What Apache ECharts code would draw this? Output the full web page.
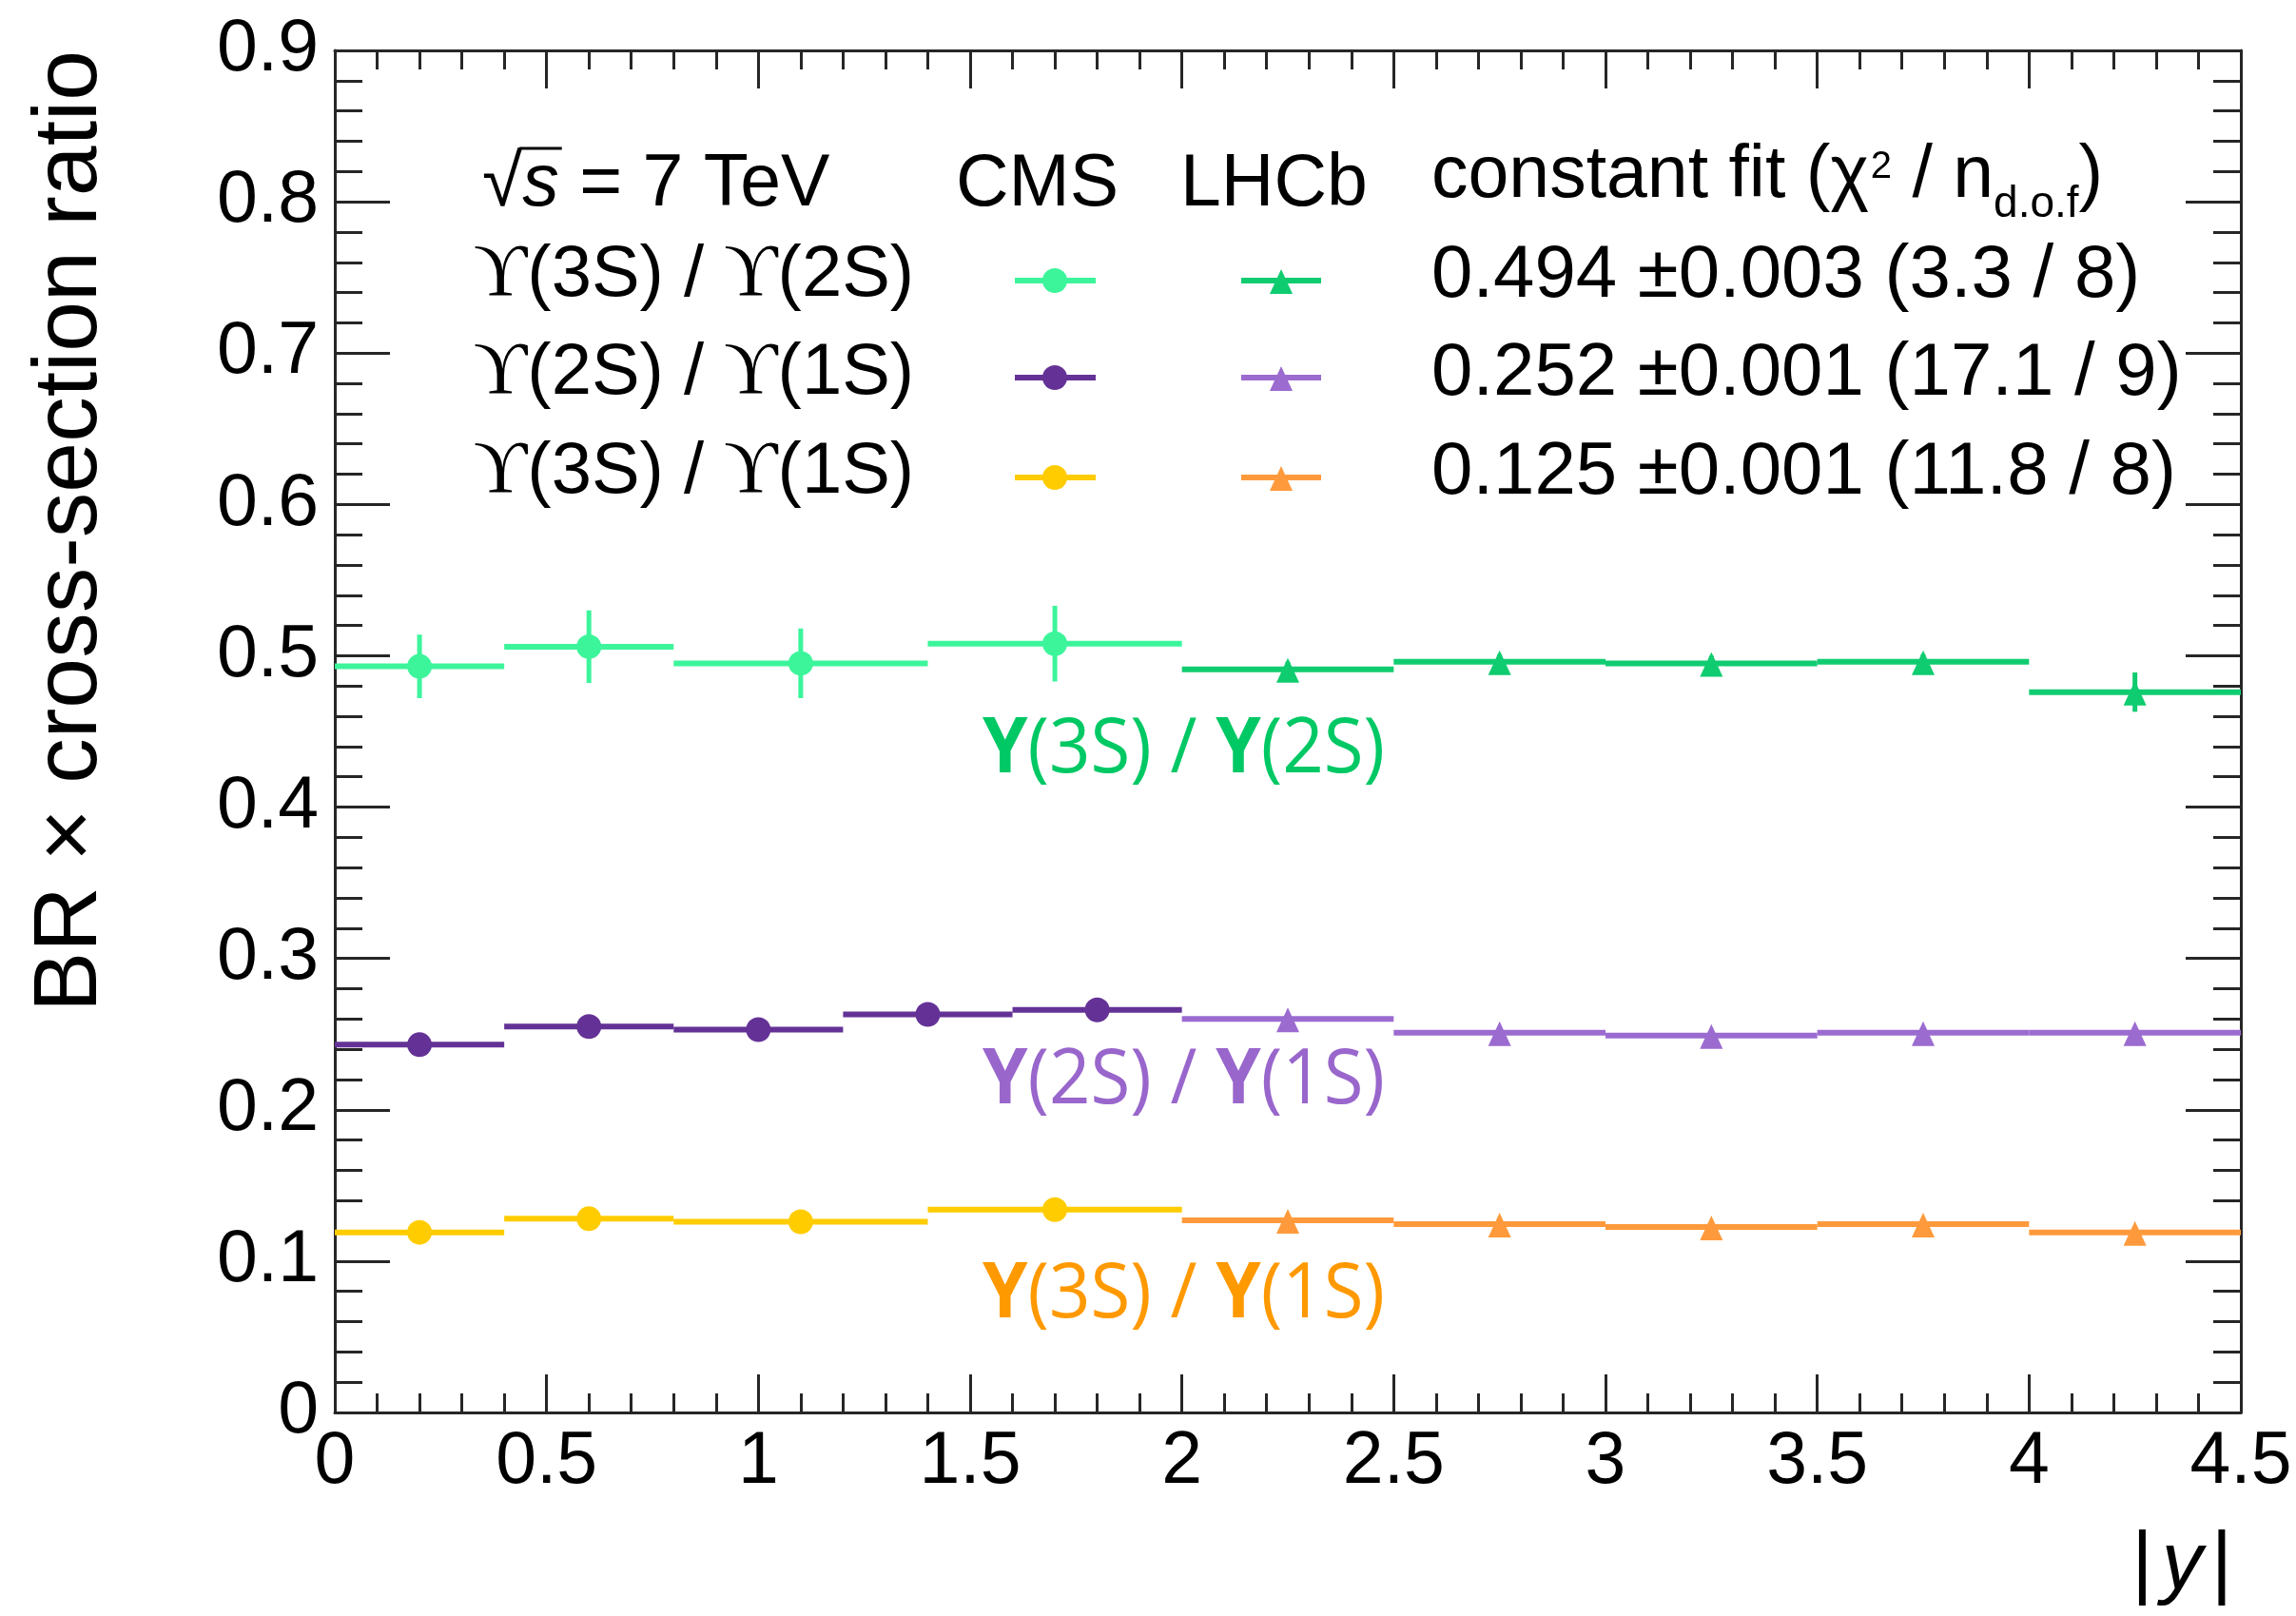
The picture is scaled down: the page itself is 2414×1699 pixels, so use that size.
<!DOCTYPE html>
<html>
<head>
<meta charset="utf-8">
<script src="https://cdn.jsdelivr.net/npm/echarts@6/dist/echarts.min.js"></script>
<style>
  html, body { margin: 0; padding: 0; background: #fff; }
  #chart { width: 2414px; height: 1699px; }
</style>
</head>
<body>
<div id="chart"></div>
<script>
// ---- |y| bin edges ----
const cmsEdgesWide = [0, 0.4, 0.8, 1.4, 2.0];        // CMS bins for ϒ(3S)/ϒ(2S) and ϒ(3S)/ϒ(1S)
const cmsEdgesFine = [0, 0.4, 0.8, 1.2, 1.6, 2.0];   // CMS bins for ϒ(2S)/ϒ(1S)
const lhcbEdges = [2.0, 2.5, 3.0, 3.5, 4.0, 4.5];

// ---- BR x cross-section ratios ----
const cms3S2S = [0.493, 0.506, 0.495, 0.508];
const cms3S2SErr = [0.021, 0.024, 0.023, 0.025];
const lhcb3S2S = [0.491, 0.496, 0.495, 0.496, 0.476];
const lhcb3S2SErr = [0.005, 0.005, 0.005, 0.005, 0.013];

const cms2S1S = [0.243, 0.255, 0.253, 0.263, 0.266];
const cms2S1SErr = [0.004, 0.004, 0.004, 0.004, 0.005];
const lhcb2S1S = [0.260, 0.251, 0.249, 0.251, 0.251];
const lhcb2S1SErr = [0.003, 0.003, 0.003, 0.003, 0.003];

const cms3S1S = [0.119, 0.128, 0.126, 0.134];
const cms3S1SErr = [0.003, 0.003, 0.003, 0.004];
const lhcb3S1S = [0.127, 0.1245, 0.1225, 0.1245, 0.119];
const lhcb3S1SErr = [0.002, 0.002, 0.002, 0.002, 0.002];

// ---- legend / annotation text ----
const ratioNames = ['ϒ(3S) / ϒ(2S)', 'ϒ(2S) / ϒ(1S)', 'ϒ(3S) / ϒ(1S)'];
const fitTexts = ['0.494 ±0.003 (3.3 / 8)', '0.252 ±0.001 (17.1 / 9)', '0.125 ±0.001 (11.8 / 8)'];
const bandLabels = ['Υ(3S) / Υ(2S)', 'Υ(2S) / Υ(1S)', 'Υ(3S) / Υ(1S)'];

// ---- axis ticks ----
const xMin = 0, xMax = 4.5, xStep = 0.5;
const yMin = 0, yMax = 0.9, yStep = 0.1;

// ---- colours ----
const colCms = ['#3cf59b', '#643296', '#ffcc00'];
const colLhcb = ['#10cc70', '#9b6bd0', '#ff9a3c'];
const colBand = ['#00c864', '#9966cc', '#ff9900'];

const FONT = '"Liberation Sans", Arial, Helvetica, sans-serif';
const SERIF = '"Liberation Serif", "DejaVu Serif", serif';
const BAND_FONT = '"Open Sans", "Noto Sans", sans-serif';
const INK = '#000';
const FRAME = '#262626';

const mctx = document.createElement('canvas').getContext('2d');
function textWidth(str, size, family, style, weight) {
  mctx.font = `${style || 'normal'} ${weight || 'normal'} ${size}px ${family}`;
  return mctx.measureText(str).width;
}

function marker(kind, c, color) {
  if (kind === 'circle') {
    return { type: 'circle', shape: { cx: c[0], cy: c[1], r: 13 }, style: { fill: color } };
  }
  return {
    type: 'polygon',
    shape: { points: [[c[0], c[1] - 12], [c[0] - 12, c[1] + 14], [c[0] + 12, c[1] + 14]] },
    style: { fill: color }
  };
}

// one horizontal bin segment + vertical error bar + marker per data item
function binSeries(name, edges, vals, errs, color, kind) {
  const data = vals.map((v, i) => [edges[i], edges[i + 1], v, errs[i]]);
  return {
    type: 'custom',
    name,
    data,
    clip: false,
    encode: { x: [0, 1], y: [2] },
    renderItem: function (params, api) {
      const lo = api.value(0), hi = api.value(1), v = api.value(2), e = api.value(3);
      const mid = (lo + hi) / 2;
      const pL = api.coord([lo, v]);
      const pR = api.coord([hi, v]);
      const pC = api.coord([mid, v]);
      const pT = api.coord([mid, v + e]);
      const pB = api.coord([mid, v - e]);
      return {
        type: 'group',
        children: [
          { type: 'line', shape: { x1: pL[0], y1: pL[1], x2: pR[0], y2: pR[1] },
            style: { stroke: color, lineWidth: 6 } },
          { type: 'line', shape: { x1: pT[0], y1: pT[1], x2: pB[0], y2: pB[1] },
            style: { stroke: color, lineWidth: 5 } },
          marker(kind, pC, color)
        ]
      };
    }
  };
}

function axisCommon(isX, showLabel, position) {
  return {
    type: 'value',
    position,
    min: isX ? xMin : yMin,
    max: isX ? xMax : yMax,
    interval: isX ? xStep : yStep,
    axisLine: { show: true, onZero: false, lineStyle: { color: FRAME, width: 3 } },
    axisTick: { show: true, inside: true, length: isX ? 40 : 58,
                lineStyle: { color: FRAME, width: 3 } },
    minorTick: { show: true, splitNumber: 5, length: isX ? 20 : 29,
                 lineStyle: { color: FRAME, width: 3 } },
    splitLine: { show: false },
    minorSplitLine: { show: false },
    axisLabel: {
      show: showLabel,
      fontFamily: FONT,
      fontSize: 77,
      color: INK,
      margin: isX ? 14 : 17
    }
  };
}

// ---- legend block (text + sample glyphs) ----
const graphics = [];
function addText(x, y, text, size, opts) {
  opts = opts || {};
  graphics.push({
    type: 'text', x, y, z: 100,
    scaleX: opts.scaleX || 1,
    rotation: opts.rotation || 0,
    style: {
      text,
      fontFamily: opts.family || FONT,
      fontSize: size,
      fontStyle: opts.italic ? 'italic' : 'normal',
      fontWeight: opts.weight || 'normal',
      fill: opts.color || INK,
      align: opts.align || 'left',
      textAlign: opts.align || 'left',
      verticalAlign: 'middle',
      textVerticalAlign: 'middle',
      rich: opts.rich
    }
  });
}
// pieces laid out left to right, each with its own size / vertical centre
function addRun(x, pieces) {
  let cx = x;
  const pos = [];
  pieces.forEach(p => {
    addText(cx, p.y, p.t, p.size, { italic: p.italic, family: p.family });
    const w = textWidth(p.t, p.size, p.family || FONT, p.italic ? 'italic' : 'normal');
    pos.push([cx, w]);
    cx += w + (p.gap || 0);
  });
  return pos;
}

const LEG = 77;
// header: √s = 7 TeV
const hdr = addRun(507, [
  { t: '√', size: LEG, y: 195 },
  { t: 's', size: LEG, y: 195, italic: true },
  { t: ' = 7 TeV', size: LEG, y: 195 }
]);
graphics.push({
  type: 'line', z: 100,
  shape: { x1: hdr[0][0] + hdr[0][1] - 3, y1: 156, x2: hdr[1][0] + hdr[1][1] + 3, y2: 156 },
  style: { stroke: INK, lineWidth: 3 }
});
addText(1005, 195, 'CMS', LEG);
addText(1241, 195, 'LHCb', LEG);
addRun(1505, [
  { t: 'constant fit (χ', size: LEG, y: 186, gap: 2 },
  { t: '2', size: 40, y: 176, gap: 0 },
  { t: ' / n', size: LEG, y: 186 },
  { t: 'd.o.f', size: 46, y: 215 },
  { t: ')', size: LEG, y: 186 }
]);

const rowY = [290, 393, 497];
const sampleY = [295, 397, 502];
ratioNames.forEach((name, i) => {
  const parts = name.split('ϒ');
  addText(498, rowY[i], '{u|ϒ}' + parts[1] + '{u|ϒ}' + parts[2], 76, {
    rich: { u: { fontFamily: SERIF, fontSize: 78, fill: INK } }
  });
  addText(1505, rowY[i], fitTexts[i], 78);
  // CMS sample
  graphics.push({ type: 'line', z: 100, shape: { x1: 1067, y1: sampleY[i], x2: 1152, y2: sampleY[i] },
                  style: { stroke: colCms[i], lineWidth: 6 } });
  graphics.push(Object.assign({ z: 100 }, marker('circle', [1109, sampleY[i]], colCms[i])));
  // LHCb sample
  graphics.push({ type: 'line', z: 100, shape: { x1: 1305, y1: sampleY[i], x2: 1389, y2: sampleY[i] },
                  style: { stroke: colLhcb[i], lineWidth: 6 } });
  graphics.push(Object.assign({ z: 100 }, marker('triangle', [1347, sampleY[i]], colLhcb[i])));
});

// coloured labels under each band
const bandY = [789, 1137, 1362];
bandLabels.forEach((lab, i) => {
  const parts = lab.split('Υ');
  addText(1033, bandY[i], '{b|Υ}' + parts[1] + '{b|Υ}' + parts[2], 81, {
    family: BAND_FONT, color: colBand[i], scaleX: 0.94,
    rich: { b: { fontFamily: BAND_FONT, fontSize: 81, fontWeight: 'bold', fill: colBand[i] } }
  });
});

// axis titles
addText(75, 53, 'BR × cross-section ratio', 95, { rotation: Math.PI / 2, align: 'right' });
addText(2347, 1646, '|{i|y}|', 86, {
  align: 'right',
  rich: { i: { fontFamily: FONT, fontSize: 86, fontStyle: 'italic', fill: INK, padding: [0, 9, 0, 9] } }
});

const chart = echarts.init(document.getElementById('chart'), null, { renderer: 'canvas' });
chart.setOption({
  backgroundColor: '#fff',
  animation: false,
  grid: { left: 352, right: 58, top: 53, bottom: 214, containLabel: false, outerBoundsMode: 'none' },
  xAxis: [axisCommon(true, true, 'bottom'), axisCommon(true, false, 'top')],
  yAxis: [axisCommon(false, true, 'left'), axisCommon(false, false, 'right')],
  series: [
    binSeries('CMS 3S/2S', cmsEdgesWide, cms3S2S, cms3S2SErr, colCms[0], 'circle'),
    binSeries('LHCb 3S/2S', lhcbEdges, lhcb3S2S, lhcb3S2SErr, colLhcb[0], 'triangle'),
    binSeries('CMS 2S/1S', cmsEdgesFine, cms2S1S, cms2S1SErr, colCms[1], 'circle'),
    binSeries('LHCb 2S/1S', lhcbEdges, lhcb2S1S, lhcb2S1SErr, colLhcb[1], 'triangle'),
    binSeries('CMS 3S/1S', cmsEdgesWide, cms3S1S, cms3S1SErr, colCms[2], 'circle'),
    binSeries('LHCb 3S/1S', lhcbEdges, lhcb3S1S, lhcb3S1SErr, colLhcb[2], 'triangle')
  ],
  graphic: { elements: graphics }
});
</script>
</body>
</html>
